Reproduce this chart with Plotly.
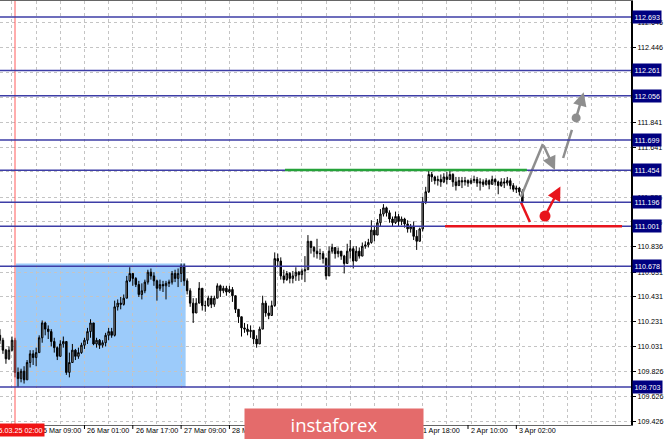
import plotly.graph_objects as go

# ---------------- data ----------------
bar_index = list(range(-5, 169))
closes = [110.08, 110.00, 109.93, 110.00, 110.08,
          109.82, 109.77, 109.83, 109.76, 109.90, 109.97, 109.94, 109.98, 110.10, 110.22,
          110.17, 110.15, 110.07, 110.02, 109.95, 110.05, 110.07, 109.82, 109.90, 110.00,
          109.95, 109.98, 110.04, 110.08, 110.15, 110.22, 110.05, 110.08, 110.04, 110.06,
          110.12, 110.15, 110.12, 110.35, 110.38, 110.37, 110.42, 110.56, 110.62, 110.58,
          110.53, 110.45, 110.48, 110.55, 110.63, 110.60, 110.56, 110.50, 110.53, 110.52,
          110.54, 110.55, 110.62, 110.58, 110.62, 110.68, 110.56, 110.48, 110.38, 110.30,
          110.38, 110.50, 110.36, 110.36, 110.42, 110.37, 110.42, 110.52, 110.48, 110.50,
          110.47, 110.49, 110.44, 110.33, 110.27, 110.18, 110.17, 110.15, 110.16, 110.09,
          110.05, 110.17, 110.38, 110.30, 110.28, 110.36, 110.74, 110.72, 110.60, 110.57,
          110.62, 110.58, 110.60, 110.63, 110.61, 110.64, 110.65, 110.88, 110.83, 110.80,
          110.78, 110.78, 110.74, 110.60, 110.80, 110.83, 110.78, 110.80, 110.76, 110.70,
          110.80, 110.82, 110.72, 110.80, 110.76, 110.84, 110.85, 110.87, 110.97, 110.93,
          111.03, 111.10, 111.15, 111.11, 111.06, 111.03, 111.08, 111.04, 111.06, 111.02,
          110.98, 111.00, 110.92, 110.88, 110.98, 111.20, 111.28, 111.42, 111.40, 111.37,
          111.38, 111.36, 111.40, 111.38, 111.42, 111.36, 111.33, 111.37, 111.36, 111.37,
          111.35, 111.37, 111.38, 111.35, 111.36, 111.34, 111.37, 111.34, 111.38, 111.36,
          111.33, 111.36, 111.35, 111.37, 111.33, 111.30, 111.31, 111.28, 111.20]
highs = [110.17, 110.10, 110.01, 110.03, 110.11,
         110.10, 109.86, 109.85, 109.87, 109.92, 110.00, 110.00, 110.02, 110.12, 110.24,
         110.23, 110.20, 110.17, 110.10, 110.03, 110.08, 110.11, 110.07, 109.98, 110.05,
         110.01, 110.02, 110.06, 110.10, 110.18, 110.25, 110.20, 110.10, 110.09, 110.08,
         110.14, 110.18, 110.18, 110.40, 110.41, 110.43, 110.45, 110.60, 110.67, 110.62,
         110.59, 110.56, 110.54, 110.57, 110.65, 110.66, 110.63, 110.57, 110.57, 110.56,
         110.56, 110.57, 110.64, 110.65, 110.66, 110.70, 110.70, 110.58, 110.50, 110.42,
         110.42, 110.55, 110.50, 110.40, 110.44, 110.44, 110.44, 110.54, 110.53, 110.52,
         110.52, 110.52, 110.51, 110.43, 110.33, 110.26, 110.22, 110.21, 110.20, 110.15,
         110.12, 110.19, 110.44, 110.40, 110.36, 110.40, 110.79, 110.78, 110.75, 110.65,
         110.64, 110.63, 110.64, 110.67, 110.64, 110.66, 110.76, 110.93, 110.88, 110.84,
         110.90, 110.82, 110.80, 110.75, 110.84, 110.86, 110.83, 110.83, 110.80, 110.77,
         110.86, 110.89, 110.84, 110.84, 110.83, 110.87, 110.88, 110.90, 111.05, 111.00,
         111.06, 111.14, 111.18, 111.16, 111.13, 111.08, 111.12, 111.10, 111.08, 111.07,
         111.05, 111.02, 111.04, 110.97, 110.99, 111.24, 111.32, 111.45, 111.44, 111.41,
         111.41, 111.42, 111.43, 111.44, 111.45, 111.43, 111.40, 111.40, 111.40, 111.40,
         111.38, 111.39, 111.41, 111.40, 111.39, 111.38, 111.39, 111.38, 111.41, 111.39,
         111.37, 111.39, 111.39, 111.40, 111.39, 111.35, 111.33, 111.32, 111.30]
lows = [110.05, 109.97, 109.89, 109.92, 109.99,
        109.78, 109.70, 109.74, 109.73, 109.78, 109.86, 109.88, 109.87, 109.99, 110.06,
        110.12, 110.09, 110.03, 109.98, 109.92, 109.97, 110.02, 109.80, 109.78, 109.93,
        109.92, 109.93, 109.97, 110.01, 110.05, 110.10, 110.04, 110.02, 110.01, 110.02,
        110.03, 110.08, 110.10, 110.11, 110.32, 110.33, 110.36, 110.42, 110.55, 110.52,
        110.51, 110.43, 110.41, 110.46, 110.53, 110.57, 110.52, 110.40, 110.48, 110.47,
        110.41, 110.51, 110.53, 110.55, 110.51, 110.55, 110.52, 110.45, 110.35, 110.22,
        110.30, 110.40, 110.32, 110.31, 110.35, 110.34, 110.35, 110.42, 110.43, 110.46,
        110.44, 110.46, 110.39, 110.30, 110.22, 110.11, 110.14, 110.12, 110.10, 110.05,
        110.02, 110.07, 110.20, 110.27, 110.25, 110.28, 110.35, 110.68, 110.57, 110.54,
        110.56, 110.54, 110.54, 110.56, 110.56, 110.57, 110.55, 110.72, 110.78, 110.75,
        110.74, 110.73, 110.70, 110.57, 110.66, 110.78, 110.74, 110.75, 110.73, 110.62,
        110.70, 110.74, 110.66, 110.72, 110.74, 110.76, 110.82, 110.83, 110.86, 110.88,
        110.95, 111.00, 111.08, 111.08, 111.03, 111.00, 111.02, 111.00, 111.01, 110.99,
        110.95, 110.95, 110.89, 110.81, 110.90, 110.96, 111.18, 111.27, 111.36, 111.34,
        111.33, 111.32, 111.35, 111.34, 111.38, 111.32, 111.29, 111.33, 111.31, 111.33,
        111.32, 111.34, 111.35, 111.32, 111.29, 111.32, 111.33, 111.30, 111.34, 111.33,
        111.26, 111.32, 111.31, 111.33, 111.30, 111.28, 111.27, 111.25, 111.19]
first_open = 110.12

levels = [112.693, 112.261, 112.056, 111.699, 111.454, 111.196, 111.001, 110.678, 109.703]
price_ticks = [112.646, 112.446, 112.246, 112.041, 111.841, 111.641, 111.441, 111.236,
               111.036, 110.836, 110.631, 110.431, 110.231, 110.031, 109.826, 109.626, 109.426]
# ticks whose labels sit fully under a level label in the reference
hidden_tick_labels = [112.246, 112.041, 111.441]
time_labels = ["25 Mar 09:00", "26 Mar 01:00", "26 Mar 17:00", "27 Mar 09:00",
               "28 Mar 01:00", "1 Apr 18:00", "2 Apr 10:00", "3 Apr 02:00"]
time_label_idx = [7, 23, 39, 55, 71, 134, 150, 166]
marker_line_idx = 0
marker_line_text = "25.03.25 02:00"

# zones / forecast drawings (bar index, price)
box_x = [0.3, 56.5]
box_y = [109.703, 110.70]
green_x = [89.4, 169.5]
green_y = 111.456
red_x = [142.4, 201.0]
red_y = 111.001
gray_path_x = [167.5, 174.8]
gray_path_y = [111.238, 111.666]
gray_head = (178.8, 111.456)
gray_seg_x = [181.5, 184.4]
gray_seg_y = [111.553, 111.780]
gray_dot = (185.8, 111.877)
gray_tip = (188.3, 112.085)
red_seg_x = [167.5, 170.5]
red_seg_y = [111.197, 111.036]
red_dot = (175.5, 111.084)
red_tip = (180.6, 111.322)

# ---------------- figure ----------------
opens = [first_open] + closes[:-1]
hi = [max(h, o, c) for h, o, c in zip(highs, opens, closes)]
lo = [min(l, o, c) for l, o, c in zip(lows, opens, closes)]

W, H = 665, 439
ML, MR, MT, MB = 0, 34, 1, 14
PW, PH = W - ML - MR, H - MT - MB
FONT = "Liberation Sans"

def px_to_paper_x(px):
    return (px - ML) / PW

def py_to_paper_y(py):
    return (H - MB - py) / PH

fig = go.Figure()
fig.add_trace(go.Candlestick(
    x=bar_index, open=opens, high=hi, low=lo, close=closes,
    increasing=dict(line=dict(color="#000000", width=1), fillcolor="#a0a0a0"),
    decreasing=dict(line=dict(color="#000000", width=1), fillcolor="#000000"),
    whiskerwidth=0, hoverinfo="skip", showlegend=False))

gray = "#8e8e8e"
red = "#e8141c"
fig.add_trace(go.Scatter(x=gray_path_x, y=gray_path_y, mode="lines",
                         line=dict(color=gray, width=2.5), showlegend=False, hoverinfo="skip"))
fig.add_trace(go.Scatter(x=gray_seg_x, y=gray_seg_y, mode="lines",
                         line=dict(color=gray, width=2.5), showlegend=False, hoverinfo="skip"))
fig.add_trace(go.Scatter(x=[gray_dot[0]], y=[gray_dot[1]], mode="markers",
                         marker=dict(color=gray, size=9), showlegend=False, hoverinfo="skip"))
fig.add_trace(go.Scatter(x=red_seg_x, y=red_seg_y, mode="lines",
                         line=dict(color=red, width=2.5), showlegend=False, hoverinfo="skip"))
fig.add_trace(go.Scatter(x=[red_dot[0]], y=[red_dot[1]], mode="markers",
                         marker=dict(color=red, size=11), showlegend=False, hoverinfo="skip"))

shapes = []
shapes.append(dict(type="rect", xref="x", yref="y", x0=box_x[0], x1=box_x[1],
                   y0=box_y[0], y1=box_y[1], fillcolor="#9ccbfa", line=dict(width=0),
                   layer="below"))
shapes.append(dict(type="line", xref="x", yref="paper", x0=marker_line_idx, x1=marker_line_idx,
                   y0=0, y1=1, line=dict(color="#ff5a5a", width=1), layer="above"))
for lv in levels:
    shapes.append(dict(type="line", xref="paper", yref="y", x0=0, x1=1, y0=lv, y1=lv,
                       line=dict(color="#3d3da6", width=1.5), layer="above"))
shapes.append(dict(type="line", xref="x", yref="y", x0=green_x[0], x1=green_x[1],
                   y0=green_y, y1=green_y, line=dict(color="#25a23a", width=2.5), layer="above"))
shapes.append(dict(type="line", xref="x", yref="y", x0=red_x[0], x1=red_x[1],
                   y0=red_y, y1=red_y, line=dict(color=red, width=2.5), layer="above"))
for ti in time_label_idx:
    shapes.append(dict(type="line", xref="x", yref="paper", x0=ti, x1=ti,
                       y0=0, y1=-4 / PH, line=dict(color="#000000", width=1)))

annotations = []
annotations.append(dict(x=gray_head[0], y=gray_head[1], ax=gray_path_x[1], ay=gray_path_y[1],
                        xref="x", yref="y", axref="x", ayref="y", text="", showarrow=True,
                        arrowhead=2, arrowsize=1.1, arrowwidth=2.5, arrowcolor=gray))
annotations.append(dict(x=gray_tip[0], y=gray_tip[1], ax=gray_dot[0], ay=gray_dot[1],
                        xref="x", yref="y", axref="x", ayref="y", text="", showarrow=True,
                        arrowhead=2, arrowsize=1.1, arrowwidth=2.5, arrowcolor=gray))
annotations.append(dict(x=red_tip[0], y=red_tip[1], ax=red_dot[0], ay=red_dot[1],
                        xref="x", yref="y", axref="x", ayref="y", text="", showarrow=True,
                        arrowhead=2, arrowsize=1.1, arrowwidth=2.5, arrowcolor=red))
for lv in levels:
    annotations.append(dict(x=1, y=lv, xref="paper", yref="y", xanchor="left", yanchor="middle",
                            xshift=1, text=f"{lv:.3f}", showarrow=False, bgcolor="#000080",
                            borderpad=1.5, font=dict(color="#ffffff", size=7.2, family=FONT)))
for t, ti in zip(time_labels, time_label_idx):
    annotations.append(dict(x=ti, y=py_to_paper_y(430), xref="x", yref="paper", xanchor="left",
                            yanchor="middle", xshift=1, text=t, showarrow=False,
                            font=dict(color="#000000", size=7.2, family=FONT)))
annotations.append(dict(x=px_to_paper_x(45), y=py_to_paper_y(430), xref="paper", yref="paper",
                        xanchor="right", yanchor="middle", text=marker_line_text, showarrow=False,
                        bgcolor="#f01414", borderpad=1.5,
                        font=dict(color="#ffffff", size=7.2, family=FONT)))
annotations.append(dict(x=px_to_paper_x(244), y=py_to_paper_y(408), xref="paper", yref="paper",
                        xanchor="left", yanchor="top", width=178, height=31, borderpad=0,
                        text="instaforex", showarrow=False, bgcolor="#e46b6b",
                        align="center", valign="middle",
                        font=dict(color="#ffffff", size=18.5, family="Open Sans")))

tick_text = ["" if v in hidden_tick_labels else f"{v:.3f}" for v in price_ticks]

fig.update_layout(
    width=W, height=H, autosize=False,
    margin=dict(l=ML, r=MR, t=MT, b=MB, autoexpand=False),
    paper_bgcolor="#ffffff", plot_bgcolor="#ffffff",
    showlegend=False, shapes=shapes, annotations=annotations,
    xaxis=dict(range=[-4.97, 203.97], rangeslider=dict(visible=False),
               tickmode="linear", tick0=-1, dtick=8, showticklabels=False, ticks="",
               showgrid=True, gridcolor="#c4c4c4", griddash="3px,3px", gridwidth=1,
               zeroline=False, showline=True, linecolor="#666666", linewidth=1, mirror=True,
               automargin=False),
    yaxis=dict(range=[109.395, 112.822], side="right", tickmode="array",
               tickvals=price_ticks, ticktext=tick_text,
               ticks="outside", ticklen=3, tickcolor="#000000",
               tickfont=dict(size=7.2, family=FONT, color="#000000"),
               showgrid=True, gridcolor="#c4c4c4", griddash="3px,3px", gridwidth=1,
               zeroline=False, showline=True, linecolor="#000000", linewidth=2,
               automargin=False),
)

fig.write_html("out.html", config={"displayModeBar": False},
               post_script="document.body.style.margin='0';document.body.style.overflow='hidden';")
